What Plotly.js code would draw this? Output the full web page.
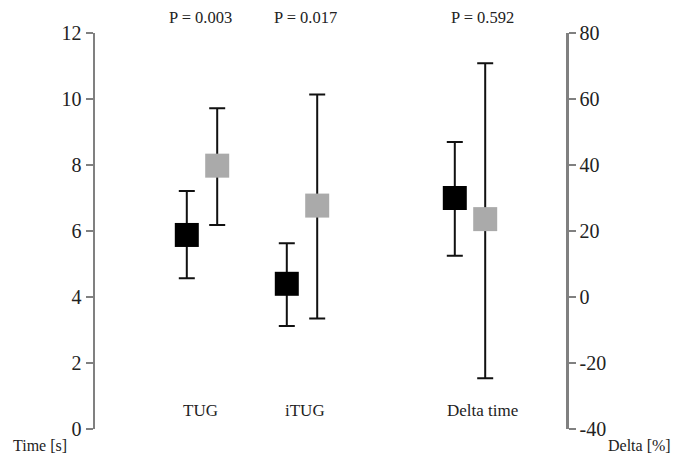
<!DOCTYPE html>
<html>
<head>
<meta charset="utf-8">
<script src="https://cdn.plot.ly/plotly-3.0.1.min.js"></script>
<style>html,body{margin:0;padding:0;background:#fff;}#chart{width:674px;height:463px;}</style>
</head>
<body>
<div id="chart"></div>
<script>
// Data
const categories = ["TUG", "iTUG", "Delta time"];
const pValues = ["P = 0.003", "P = 0.017", "P = 0.592"];
// Time [s] (left axis) for TUG, iTUG
const blackMean = [5.88, 4.40];
const blackPlus = [1.33, 1.23];
const blackMinus = [1.31, 1.28];
const grayMean = [7.98, 6.77];
const grayPlus = [1.74, 3.37];
const grayMinus = [1.80, 3.42];
// Delta [%] (right axis)
const deltaBlackMean = [30.0];
const deltaBlackPlus = [17.0];
const deltaBlackMinus = [17.5];
const deltaGrayMean = [23.6];
const deltaGrayPlus = [47.2];
const deltaGrayMinus = [48.2];
const leftTicks = [0, 2, 4, 6, 8, 10, 12];
const rightTicks = [-40, -20, 0, 20, 40, 60, 80];

// layout positions (x in 100px units from left axis)
const catX = [1.07, 2.07, 3.75];
const off = 0.152;
const labelX = [1.05, 2.10, 3.87];

const font = "Liberation Serif";

function trace(xs, ys, plus, minus, color, yaxis) {
  return {
    type: "scatter", mode: "markers", x: xs, y: ys, yaxis: yaxis,
    marker: {symbol: "square", size: 24, color: color, line: {width: 0}},
    error_y: {type: "data", symmetric: false, array: plus, arrayminus: minus,
      color: "#111", thickness: 2, width: 8},
    showlegend: false, hoverinfo: "skip", cliponaxis: false
  };
}

const data = [
  trace(catX.slice(0, 2).map(v => v - off), blackMean, blackPlus, blackMinus, "#000000", "y"),
  trace(catX.slice(0, 2).map(v => v + off), grayMean, grayPlus, grayMinus, "#aaaaaa", "y"),
  trace([catX[2] - off], deltaBlackMean, deltaBlackPlus, deltaBlackMinus, "#000000", "y2"),
  trace([catX[2] + off], deltaGrayMean, deltaGrayPlus, deltaGrayMinus, "#aaaaaa", "y2")
];

const annotations = [];
categories.forEach((c, i) => {
  annotations.push({x: labelX[i], y: 0, xref: "x", yref: "paper", text: c, showarrow: false,
    font: {family: font, size: 17, color: "#222"}, yanchor: "middle", yshift: 19});
  annotations.push({x: labelX[i], y: 1.0, xref: "x", yref: "paper", text: pValues[i], showarrow: false,
    font: {family: font, size: 16.5, color: "#222"}, yanchor: "bottom", yshift: 4});
});
annotations.push({x: 0, y: 0, xref: "paper", yref: "paper", xanchor: "left", yanchor: "top",
  text: "Time [s]", showarrow: false, xshift: -84, yshift: -6, font: {family: font, size: 16, color: "#222"}});
annotations.push({x: 1, y: 0, xref: "paper", yref: "paper", xanchor: "right", yanchor: "top",
  text: "Delta [%]", showarrow: false, xshift: 107, yshift: -6, font: {family: font, size: 16, color: "#222"}});

const axisCommon = {
  showgrid: false, zeroline: false, showline: true, linecolor: "#808080", linewidth: 2.5,
  ticks: "outside", ticklen: 7, tickwidth: 2, tickcolor: "#808080",
  tickfont: {family: font, size: 20, color: "#222"}, fixedrange: true
};

const layout = {
  width: 674, height: 463,
  margin: {l: 95, r: 108, t: 33, b: 34},
  paper_bgcolor: "#fff", plot_bgcolor: "#fff",
  font: {family: font},
  xaxis: {range: [0, 4.71], visible: false, fixedrange: true},
  yaxis: Object.assign({}, axisCommon, {range: [0, 12], tickvals: leftTicks, ticktext: leftTicks.map(String)}),
  yaxis2: Object.assign({}, axisCommon, {range: [-40, 80], overlaying: "y", side: "right",
    tickvals: rightTicks, ticktext: rightTicks.map(String)}),
  annotations: annotations
};

Plotly.newPlot("chart", data, layout, {displayModeBar: false, staticPlot: true});
</script>
</body>
</html>
